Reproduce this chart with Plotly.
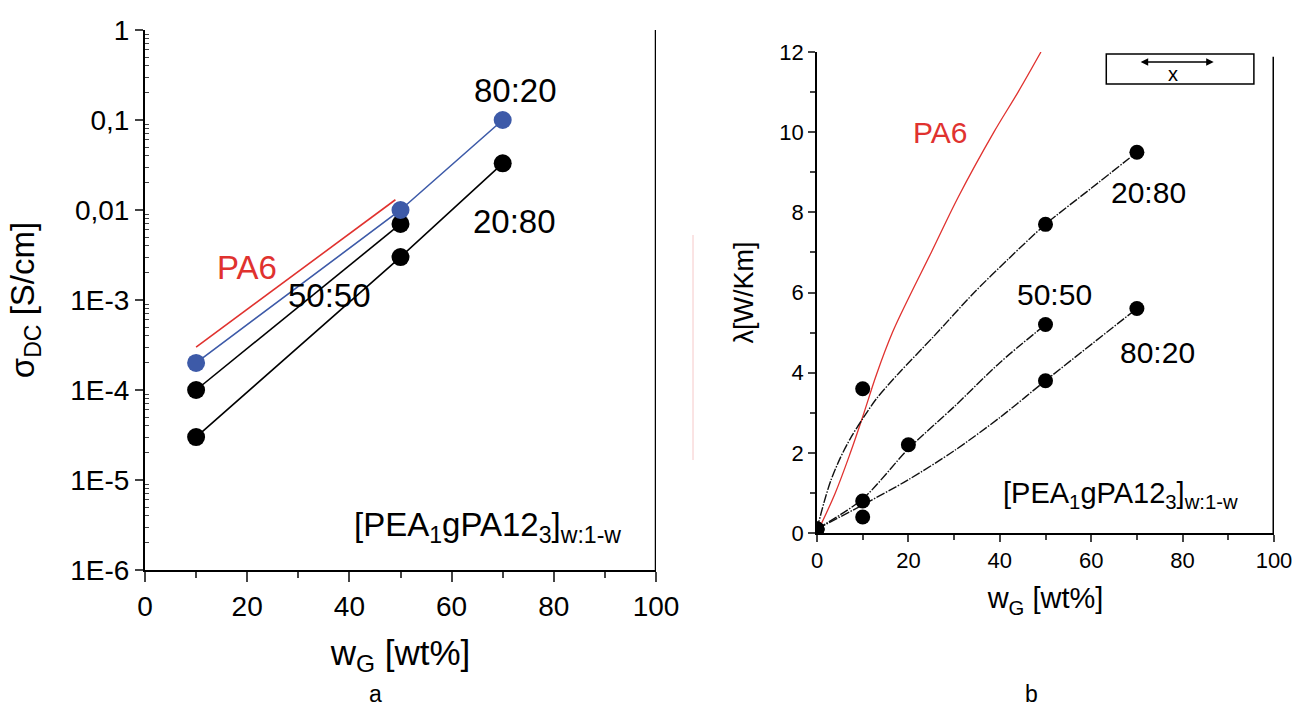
import plotly.graph_objects as go

W, H = 1306, 711
FONT = "Liberation Sans, Arial, sans-serif"
BLUE = "#3d5aa8"
RED = "#e0322f"

# ---------------- Panel a: sigma_DC (log) ----------------
a_x_8020 = [10, 50, 70]
a_y_8020 = [2e-4, 1e-2, 1e-1]
a_x_5050 = [10, 50]
a_y_5050 = [1e-4, 7e-3]
a_x_2080 = [10, 50, 70]
a_y_2080 = [3e-5, 3e-3, 3.3e-2]
a_x_pa6 = [10, 49]
a_y_pa6 = [3e-4, 1.3e-2]
a_ytickvals = [1e-6, 1e-5, 1e-4, 1e-3, 1e-2, 1e-1, 1]
a_yticktext = ["1E-6", "1E-5", "1E-4", "1E-3", "0,01", "0,1", "1"]
a_xtickvals = [0, 20, 40, 60, 80, 100]

# ---------------- Panel b: lambda ----------------
b_x_2080 = [0, 10, 50, 70]
b_y_2080 = [0.1, 3.6, 7.7, 9.5]
b_x_5050 = [0, 10, 20, 50]
b_y_5050 = [0.1, 0.8, 2.2, 5.2]
b_x_8020 = [0, 10, 50, 70]
b_y_8020 = [0.1, 0.4, 3.8, 5.6]
# fitted guide curves
fit_x_2080 = [0, 1.5, 3, 5, 7.5, 10, 13, 18, 25.5, 34.4, 42, 50, 60, 70]
fit_y_2080 = [0.1, 0.75, 1.3, 1.85, 2.4, 2.85, 3.35, 4.0, 4.9, 6.0, 6.85, 7.7, 8.6, 9.5]
fit_x_5050 = [0, 10, 20, 30, 40, 50]
fit_y_5050 = [0.1, 0.85, 2.1, 3.15, 4.25, 5.2]
fit_x_8020 = [0, 10, 20, 30, 40, 50, 70]
fit_y_8020 = [0.1, 0.7, 1.33, 2.05, 2.88, 3.8, 5.6]
pa6_x = [0, 4, 7.3, 10, 13, 16.5, 20, 25, 31, 38.7, 44, 49]
pa6_y = [0, 1.0, 2.0, 2.9, 3.95, 5.0, 5.85, 7.0, 8.4, 10.0, 11.0, 12.0]
b_ytickvals = [0, 2, 4, 6, 8, 10, 12]
b_xtickvals = [0, 20, 40, 60, 80, 100]

fig = go.Figure()

# panel a traces
fig.add_trace(go.Scatter(x=a_x_pa6, y=a_y_pa6, mode="lines",
                         line=dict(color=RED, width=1.6), xaxis="x", yaxis="y"))
fig.add_trace(go.Scatter(x=a_x_2080, y=a_y_2080, mode="lines+markers",
                         line=dict(color="black", width=1.6),
                         marker=dict(color="black", size=18), xaxis="x", yaxis="y"))
fig.add_trace(go.Scatter(x=a_x_5050, y=a_y_5050, mode="lines+markers",
                         line=dict(color="black", width=1.6),
                         marker=dict(color="black", size=18), xaxis="x", yaxis="y"))
fig.add_trace(go.Scatter(x=a_x_8020, y=a_y_8020, mode="lines+markers",
                         line=dict(color=BLUE, width=1.6),
                         marker=dict(color=BLUE, size=18), xaxis="x", yaxis="y"))

# panel b traces
fig.add_trace(go.Scatter(x=pa6_x, y=pa6_y, mode="lines", line_shape="spline",
                         line=dict(color=RED, width=1.3, smoothing=1.0), xaxis="x2", yaxis="y2"))
for fx, fy in [(fit_x_2080, fit_y_2080), (fit_x_5050, fit_y_5050), (fit_x_8020, fit_y_8020)]:
    fig.add_trace(go.Scatter(x=fx, y=fy, mode="lines", line_shape="spline",
                             line=dict(color="#111111", width=1.4, smoothing=0.8,
                                       dash="9px,1.5px,1.5px,1.5px"),
                             xaxis="x2", yaxis="y2"))
for bx, by in [(b_x_2080, b_y_2080), (b_x_5050, b_y_5050), (b_x_8020, b_y_8020)]:
    fig.add_trace(go.Scatter(x=bx, y=by, mode="markers",
                             marker=dict(color="black", size=15), xaxis="x2", yaxis="y2"))

# domains from pixel layout
def px_x(p):
    return p / W

def px_y(p):
    return 1 - p / H

tickfont_a = dict(family=FONT, size=28, color="black")
tickfont_b = dict(family=FONT, size=22, color="black")

fig.update_layout(
    width=W, height=H, margin=dict(l=0, r=0, t=0, b=0, autoexpand=False),
    paper_bgcolor="white", plot_bgcolor="white", showlegend=False,
    font=dict(family=FONT, color="black"),
    xaxis=dict(domain=[px_x(145), px_x(656)], range=[0, 100], anchor="y", automargin=False,
               tickvals=a_xtickvals, ticks="outside", ticklen=10, tickwidth=2,
               minor=dict(tickvals=[10, 30, 50, 70, 90], ticks="outside", ticklen=6, tickwidth=1.5),
               showline=True, linecolor="black", linewidth=2, showgrid=False, zeroline=False,
               tickfont=tickfont_a,
               title=dict(text="w<sub>G</sub> [wt%]", font=dict(family=FONT, size=35), standoff=20)),
    yaxis=dict(domain=[px_y(570), px_y(30)], type="log", range=[-6, 0], anchor="x", automargin=False,
               tickvals=a_ytickvals, ticktext=a_yticktext, ticks="outside", ticklen=8, tickwidth=2,
               minor=dict(tickvals=[m * 10 ** e for e in range(-6, 0) for m in range(2, 10)],
                          ticks="inside", ticklen=4, tickwidth=1.2),
               showline=True, linecolor="black", linewidth=2, showgrid=False, zeroline=False,
               tickfont=tickfont_a,
               title=dict(text="σ<sub>DC</sub> [S/cm]", font=dict(family=FONT, size=33), standoff=26)),
    xaxis2=dict(domain=[px_x(817), px_x(1274)], range=[0, 100], anchor="y2", automargin=False,
                tickvals=b_xtickvals, ticks="outside", ticklen=7, tickwidth=1.5,
                minor=dict(tickvals=[10, 30, 50, 70, 90], ticks="outside", ticklen=5, tickwidth=1.5),
                showline=True, linecolor="black", linewidth=1.5, showgrid=False, zeroline=False,
                tickfont=tickfont_b,
                title=dict(text="w<sub>G</sub> [wt%]", font=dict(family=FONT, size=29), standoff=16)),
    yaxis2=dict(domain=[px_y(533), px_y(52)], range=[0, 12], anchor="x2", automargin=False,
                tickvals=b_ytickvals, ticks="outside", ticklen=7, tickwidth=1.5,
                minor=dict(tickvals=[1, 3, 5, 7, 9, 11], ticks="outside", ticklen=5, tickwidth=1.5),
                showline=True, linecolor="black", linewidth=1.5, showgrid=False, zeroline=False,
                tickfont=tickfont_b,
                title=dict(text="λ[W/Km]", font=dict(family=FONT, size=27), standoff=18)),
)

# right border lines
fig.add_shape(type="line", xref="x", yref="y domain", x0=100, x1=100, y0=0, y1=1,
              line=dict(color="black", width=2.5))
fig.add_shape(type="line", xref="x2", yref="y2 domain", x0=100, x1=100, y0=0, y1=0.99,
              line=dict(color="black", width=3))
# faint pink artifact line between panels
fig.add_shape(type="line", xref="paper", yref="paper", x0=px_x(693), x1=px_x(693),
              y0=px_y(460), y1=px_y(235), line=dict(color="#f6c8c8", width=1))

# "x" box in panel b
fig.add_shape(type="rect", xref="x2", yref="y2", x0=63.3, x1=95.6, y0=11.2, y1=11.95,
              line=dict(color="black", width=1.5), fillcolor="rgba(0,0,0,0)")
fig.add_annotation(xref="x2", yref="y2", x=86.8, y=11.75, ax=70.5, ay=11.75,
                   axref="x2", ayref="y2", showarrow=True, arrowhead=2, arrowside="end+start",
                   arrowsize=1, arrowwidth=1.5, arrowcolor="black", text="")
fig.add_annotation(xref="x2", yref="y2", x=78, y=11.45, text="x", showarrow=False,
                   font=dict(family=FONT, size=20, color="black"))

def label(xref, yref, x, y, text, size, color="black"):
    fig.add_annotation(xref=xref, yref=yref, x=x, y=y, text=text, showarrow=False,
                       xanchor="center", yanchor="middle",
                       font=dict(family=FONT, size=size, color=color))

# panel a labels
label("x", "y", 72.6, -0.67, "80:20", 33)
label("x", "y", 72.4, -2.13, "20:80", 33)
label("x", "y", 36.2, -2.95, "50:50", 33)
label("x", "y", 20, -2.64, "PA6", 33, RED)
label("x", "y", 67, -5.52, "[PEA<sub>1</sub>gPA12<sub>3</sub>]<sub>w:1-w</sub>", 33)

# panel b labels
label("x2", "y2", 27, 10.0, "PA6", 30, RED)
label("x2", "y2", 72.5, 8.5, "20:80", 30)
label("x2", "y2", 52, 5.95, "50:50", 30)
label("x2", "y2", 74.6, 4.5, "80:20", 30)
label("x2", "y2", 66.5, 0.95, "[PEA<sub>1</sub>gPA12<sub>3</sub>]<sub>w:1-w</sub>", 29)

# panel letters
label("paper", "paper", px_x(375), px_y(694), "a", 23)
label("paper", "paper", px_x(1031), px_y(694), "b", 23)

fig.write_html("out.html", post_script="document.body.style.margin='0';",
               config={"displayModeBar": False})
